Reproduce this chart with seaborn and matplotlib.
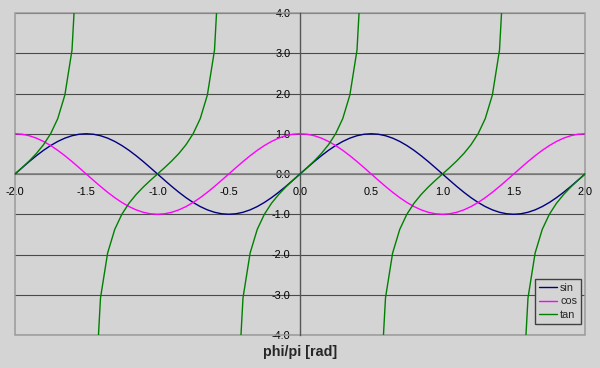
import matplotlib
matplotlib.use("Agg")
import matplotlib.pyplot as plt
import pandas as pd
import seaborn as sns
from matplotlib.patches import Rectangle

x_values = [-2.0, -1.95, -1.9, -1.85, -1.8, -1.75, -1.7, -1.65, -1.6, -1.55,
            -1.5, -1.45, -1.4, -1.35, -1.3, -1.25, -1.2, -1.15, -1.1, -1.05,
            -1.0, -0.95, -0.9, -0.85, -0.8, -0.75, -0.7, -0.65, -0.6, -0.55,
            -0.5, -0.45, -0.4, -0.35, -0.3, -0.25, -0.2, -0.15, -0.1, -0.05,
            0.0, 0.05, 0.1, 0.15, 0.2, 0.25, 0.3, 0.35, 0.4, 0.45,
            0.5, 0.55, 0.6, 0.65, 0.7, 0.75, 0.8, 0.85, 0.9, 0.95,
            1.0, 1.05, 1.1, 1.15, 1.2, 1.25, 1.3, 1.35, 1.4, 1.45,
            1.5, 1.55, 1.6, 1.65, 1.7, 1.75, 1.8, 1.85, 1.9, 1.95, 2.0]

sin_values = [0.0, 0.156, 0.309, 0.454, 0.588, 0.707, 0.809, 0.891, 0.951, 0.988,
              1.0, 0.988, 0.951, 0.891, 0.809, 0.707, 0.588, 0.454, 0.309, 0.156,
              0.0, -0.156, -0.309, -0.454, -0.588, -0.707, -0.809, -0.891, -0.951, -0.988,
              -1.0, -0.988, -0.951, -0.891, -0.809, -0.707, -0.588, -0.454, -0.309, -0.156,
              0.0, 0.156, 0.309, 0.454, 0.588, 0.707, 0.809, 0.891, 0.951, 0.988,
              1.0, 0.988, 0.951, 0.891, 0.809, 0.707, 0.588, 0.454, 0.309, 0.156,
              0.0, -0.156, -0.309, -0.454, -0.588, -0.707, -0.809, -0.891, -0.951, -0.988,
              -1.0, -0.988, -0.951, -0.891, -0.809, -0.707, -0.588, -0.454, -0.309, -0.156,
              0.0]

cos_values = [1.0, 0.988, 0.951, 0.891, 0.809, 0.707, 0.588, 0.454, 0.309, 0.156,
              0.0, -0.156, -0.309, -0.454, -0.588, -0.707, -0.809, -0.891, -0.951, -0.988,
              -1.0, -0.988, -0.951, -0.891, -0.809, -0.707, -0.588, -0.454, -0.309, -0.156,
              0.0, 0.156, 0.309, 0.454, 0.588, 0.707, 0.809, 0.891, 0.951, 0.988,
              1.0, 0.988, 0.951, 0.891, 0.809, 0.707, 0.588, 0.454, 0.309, 0.156,
              0.0, -0.156, -0.309, -0.454, -0.588, -0.707, -0.809, -0.891, -0.951, -0.988,
              -1.0, -0.988, -0.951, -0.891, -0.809, -0.707, -0.588, -0.454, -0.309, -0.156,
              0.0, 0.156, 0.309, 0.454, 0.588, 0.707, 0.809, 0.891, 0.951, 0.988,
              1.0]

tan_values = [0.0, 0.158, 0.325, 0.510, 0.727, 1.0, 1.376, 1.963, 3.078, 6.314,
              None, -6.314, -3.078, -1.963, -1.376, -1.0, -0.727, -0.510, -0.325, -0.158,
              0.0, 0.158, 0.325, 0.510, 0.727, 1.0, 1.376, 1.963, 3.078, 6.314,
              None, -6.314, -3.078, -1.963, -1.376, -1.0, -0.727, -0.510, -0.325, -0.158,
              0.0, 0.158, 0.325, 0.510, 0.727, 1.0, 1.376, 1.963, 3.078, 6.314,
              None, -6.314, -3.078, -1.963, -1.376, -1.0, -0.727, -0.510, -0.325, -0.158,
              0.0, 0.158, 0.325, 0.510, 0.727, 1.0, 1.376, 1.963, 3.078, 6.314,
              None, -6.314, -3.078, -1.963, -1.376, -1.0, -0.727, -0.510, -0.325, -0.158,
              0.0]

series_names = ["sin", "cos", "tan"]
series_colors = ["#000080", "#FF00FF", "#008000"]

x_tick_values = [-2.0, -1.5, -1.0, -0.5, 0.0, 0.5, 1.0, 1.5, 2.0]
x_tick_labels = ["-2.0", "-1.5", "-1.0", "-0.5", "0.0", "0.5", "1.0", "1.5", "2.0"]
y_tick_values = [-4, -3, -2, -1, 0, 1, 2, 3, 4]
y_tick_labels = ["-4.0", "-3.0", "-2.0", "-1.0", "0.0", "1.0", "2.0", "3.0", "4.0"]
x_axis_title = "phi/pi [rad]"

# ---- long table; tan is split into branches at its poles ----
rows = []
for name, vals in zip(series_names, [sin_values, cos_values, tan_values]):
    branch = 0
    for xv, yv in zip(x_values, vals):
        if yv is None:
            branch += 1
            continue
        rows.append({"x": xv, "y": yv, "series": name, "branch": f"{name}_{branch}"})
df = pd.DataFrame(rows)

sns.set_style("white")
plt.rcParams["font.family"] = ["Liberation Sans", "DejaVu Sans"]
plt.rcParams["axes.unicode_minus"] = False

bg = "#D4D4D4"
fig = plt.figure(figsize=(6, 3.68), dpi=100, facecolor=bg)
ax = fig.add_axes([15 / 600, 1 - 335 / 368, 570 / 600, 322 / 368])
ax.set_facecolor(bg)

sns.lineplot(data=df, x="x", y="y", hue="series", units="branch",
             estimator=None, sort=False, hue_order=series_names,
             palette=dict(zip(series_names, series_colors)),
             linewidth=1.0, ax=ax, zorder=3)

ax.set_xlim(-2, 2)
ax.set_ylim(-4, 4)
ax.set_xticks(x_tick_values)
ax.set_xticklabels(x_tick_labels)
ax.set_yticks(y_tick_values)
ax.set_yticklabels(y_tick_labels)
ax.set_xlabel("")
ax.set_ylabel("")

ax.yaxis.grid(True, color="#4a4a4a", linewidth=0.8, zorder=1)
ax.xaxis.grid(False)
ax.set_axisbelow(True)

for side in ["top", "right"]:
    ax.spines[side].set_visible(False)
ax.spines["left"].set_position(("data", 0))
ax.spines["bottom"].set_position(("data", 0))
ax.spines["left"].set_color("#555555")
ax.spines["left"].set_linewidth(1.0)
ax.spines["bottom"].set_color("#808080")
ax.spines["bottom"].set_linewidth(1.2)

ax.add_patch(Rectangle((0, 0), 1, 1, transform=ax.transAxes, fill=False,
                       edgecolor="#9a9a9a", linewidth=1.1, clip_on=False, zorder=2))

ax.tick_params(axis="y", direction="out", length=4, width=0.8, color="#404040",
               pad=3.0, labelsize=7.8, labelcolor="black")
ax.tick_params(axis="x", direction="out", length=4, width=0.8, color="#404040",
               pad=5.5, labelsize=7.8, labelcolor="black")

handles, labels = ax.get_legend_handles_labels()
ax.legend(handles, labels, loc="lower right", bbox_to_anchor=(0.993, 0.034),
          frameon=True, fancybox=False, facecolor=bg, edgecolor="#404040",
          framealpha=1, fontsize=7.8, handlelength=1.7, handletextpad=0.3,
          labelspacing=0.35, borderpad=0.35, borderaxespad=0)

fig.text(0.5, 1 - 352 / 368, x_axis_title, ha="center", va="center",
         fontsize=10.3, fontweight="bold")

fig.savefig("out.png", dpi=100, facecolor=bg)
